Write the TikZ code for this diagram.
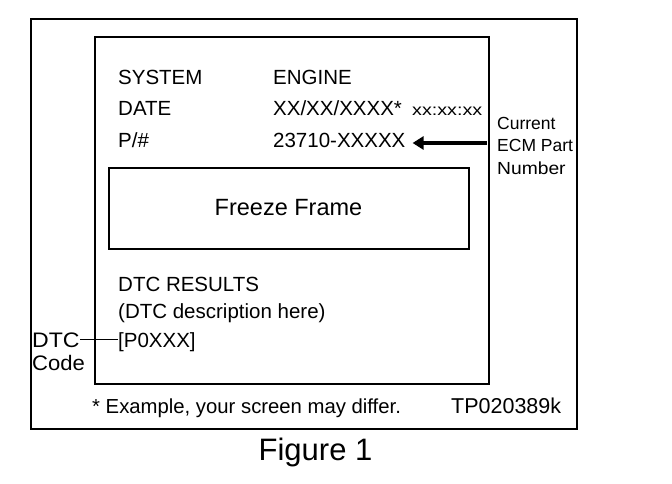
\documentclass[tikz,border=0pt]{standalone}
\usepackage{fontspec}
\setmainfont{Liberation Sans}
\usetikzlibrary{arrows.meta}
\begin{document}
\begin{tikzpicture}[x=1pt,y=-1pt,
  frame/.style={draw=black,line width=2pt},
  txt/.style={anchor=base west,inner sep=0pt,font=\fontsize{20.5}{24}\selectfont},
  side/.style={anchor=base west,inner sep=0pt,font=\fontsize{17.5}{20}\selectfont},
  lbl/.style={anchor=base west,inner sep=0pt,font=\fontsize{21}{24}\selectfont},
  lead/.style={draw=black,line width=1.2pt}]
\useasboundingbox (0,0) rectangle (672,484);
% outer frame and screen
\draw[frame] (31,19) rectangle (577,429);
\node[frame,minimum width=394pt,minimum height=347pt,inner sep=0pt,anchor=north west] (screen) at (94,36) {};
\node[frame,minimum width=360pt,minimum height=81pt,inner sep=0pt,anchor=north west] (ff) at (108,167) {};
\node[anchor=base,inner sep=0pt,font=\fontsize{23.5}{27}\selectfont] (fft) at (288.5,215) {Freeze Frame};
% screen texts
\node[txt] (sys) at (118,85) {SYSTEM};
\node[txt] (eng) at (273,85) {ENGINE};
\node[txt] (date) at (118,116) {DATE};
\node[txt] (dval) at (273,116) {XX/XX/XXXX*};
\node[anchor=base west,inner sep=0pt,font=\fontsize{16}{20}\selectfont] (time) at (412,116) {\scalebox{1.23}[1]{xx:xx:xx}};
\node[txt] (pn) at (118,147) {P/\#};
\node[txt] (pval) at (273,147) {23710-XXXXX};
\node[txt] (res) at (118,291) {DTC RESULTS};
\node[txt] (desc) at (118,318) {(DTC description here)};
\node[txt] (p0) at (118,347) {[P0XXX]};
% side labels
\node[side] (cur) at (497,130) {Current};
\node[side] (ecm) at (497,152) {ECM Part};
\node[side] (num) at (497,175) {\scalebox{1.1}[1]{Number}};
\node[lbl] (dtc) at (32,347) {\scalebox{1.1}[1]{DTC}};
\node[lbl] (code) at (32,370) {\scalebox{1.05}[1]{Code}};
% connectors
\coordinate (arrstart) at (487,143);
\draw[line width=4.5pt,-{Triangle[length=11pt,width=13pt]},shorten >=7pt] (arrstart) -- (pval.east |- arrstart);
\draw[lead] (dtc.east) ++(0.5,0) coordinate (dl) -- (dl -| p0.west);
% bottom texts
\node[anchor=base west,inner sep=0pt,font=\fontsize{20.3}{24}\selectfont] (note) at (92,413) {* Example, your screen may differ.};
\node[anchor=base west,inner sep=0pt,font=\fontsize{21.5}{25}\selectfont] (tp) at (451,413) {TP020389k};
\node[anchor=base,inner sep=0pt,font=\fontsize{31}{36}\selectfont] (fig) at (315.5,460) {Figure 1};
\end{tikzpicture}
\end{document}
